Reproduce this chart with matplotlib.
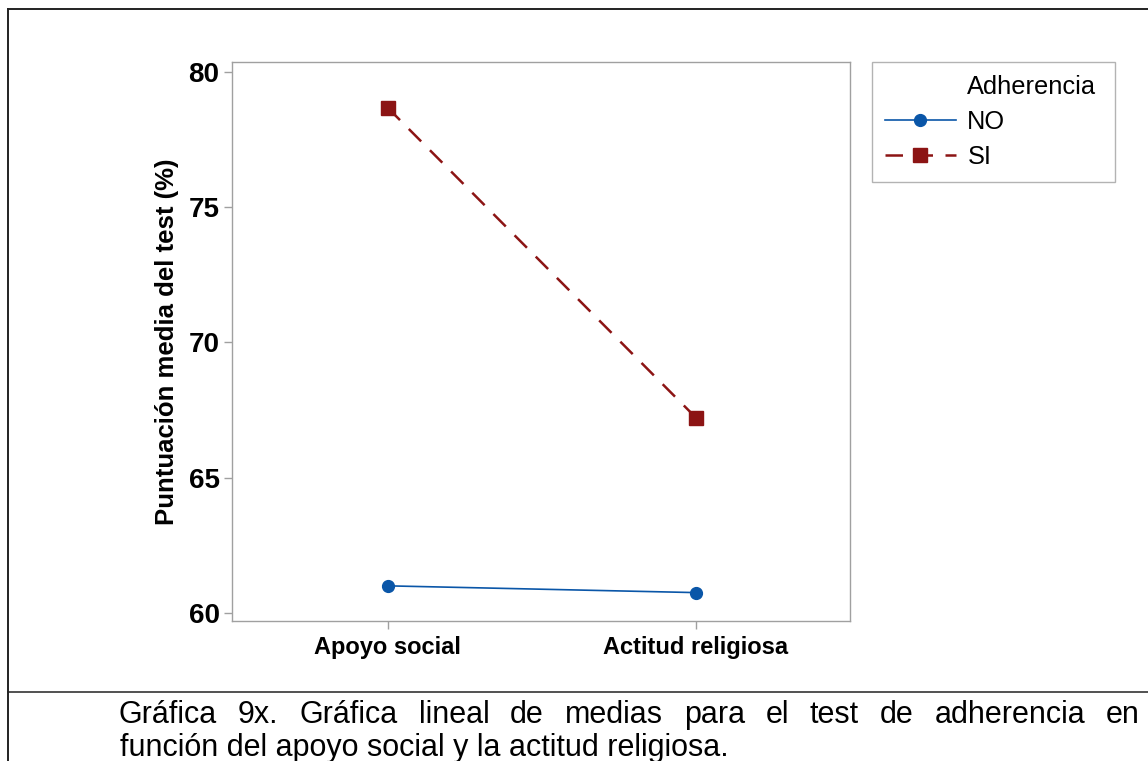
import matplotlib
matplotlib.use("Agg")
import matplotlib.pyplot as plt
from matplotlib.lines import Line2D

plt.rcParams["font.family"] = ["Liberation Sans", "DejaVu Sans"]

# Data
categories = ["Apoyo social", "Actitud religiosa"]
no_means = [61.0, 60.75]
si_means = [78.68, 67.22]
y_ticks = [60, 65, 70, 75, 80]
legend_title = "Adherencia"
caption_1 = "Gráfica 9x. Gráfica lineal de medias para el test de adherencia en"
caption_2 = "función del apoyo social y la actitud religiosa."

W, H = 1148, 761
fig = plt.figure(figsize=(W / 100, H / 100), dpi=100)
fig.patch.set_facecolor("white")

# axes box in pixels: left 232, right 850, top 62, bottom 621
ax = fig.add_axes([232 / W, 1 - 621 / H, (850 - 232) / W, (621 - 62) / H])
x = list(range(len(categories)))

ln_no, = ax.plot(x, no_means, color="#0a56a8", lw=1.2, marker="o", ms=8.5)
ln_si, = ax.plot(x, si_means, color="#8c1414", lw=1.8, ls=(0, (7, 5)),
                 marker="s", ms=9.5)

ax.set_xlim(-0.505, 1.5)
ax.set_ylim(59.7, 80.37)
ax.set_xticks(x)
ax.set_xticklabels(categories, fontsize=17, fontweight="bold")
ax.set_yticks(y_ticks)
ax.set_yticklabels([str(v) for v in y_ticks], fontsize=20, fontweight="bold")
for s in ax.spines.values():
    s.set_color("#a0a0a0")
    s.set_linewidth(1.0)
ax.tick_params(colors="#a0a0a0", labelcolor="black", length=6, width=1.0)
ax.tick_params(axis="x", pad=5)
ax.tick_params(axis="y", pad=3)
ax.set_ylabel("Puntuación media del test (%)", fontsize=18.5, fontweight="bold",
              labelpad=7)

# legend: title as a first row so it lines up with the labels
blank = Line2D([], [], color="none")
leg = ax.legend([blank, ln_no, ln_si], [legend_title, "NO", "SI"],
                loc="upper left", bbox_to_anchor=(1.0356, 0.0, 0.3932, 1.0),
                mode="expand", fontsize=18.3, frameon=True, fancybox=False,
                handlelength=2.8, borderpad=0.5, labelspacing=0.44,
                handletextpad=0.45, borderaxespad=0.0)
leg.get_frame().set_edgecolor("#a0a0a0")
leg.get_frame().set_linewidth(1.0)


# outer frame and separator line (figure pixel coords)
def fx(px):
    return px / W


def fy(py):
    return 1 - py / H


frame_kw = dict(color="#222222", lw=1.4, transform=fig.transFigure)
fig.add_artist(Line2D([fx(8), fx(8)], [fy(9), fy(761)], **frame_kw))
fig.add_artist(Line2D([fx(8), fx(1148)], [fy(9), fy(9)], **frame_kw))
fig.add_artist(Line2D([fx(8), fx(1148)], [fy(692), fy(692)], lw=1.1,
                      color="#222222", transform=fig.transFigure))

# caption, first line justified between x=120 and x=1140
fig.canvas.draw()
renderer = fig.canvas.get_renderer()
words = caption_1.split(" ")
tmp = [fig.text(0, 0, w, fontsize=22) for w in words]
widths = [t.get_window_extent(renderer).width for t in tmp]
for t in tmp:
    t.remove()
left, right = 119, 1140
gap = (right - left - sum(widths)) / (len(words) - 1)
pos = left
for w, wd in zip(words, widths):
    fig.text(fx(pos), fy(723), w, fontsize=22, va="baseline", ha="left")
    pos += wd + gap
fig.text(fx(120), fy(756), caption_2, fontsize=22, va="baseline", ha="left")

fig.savefig("out.png", dpi=100)
